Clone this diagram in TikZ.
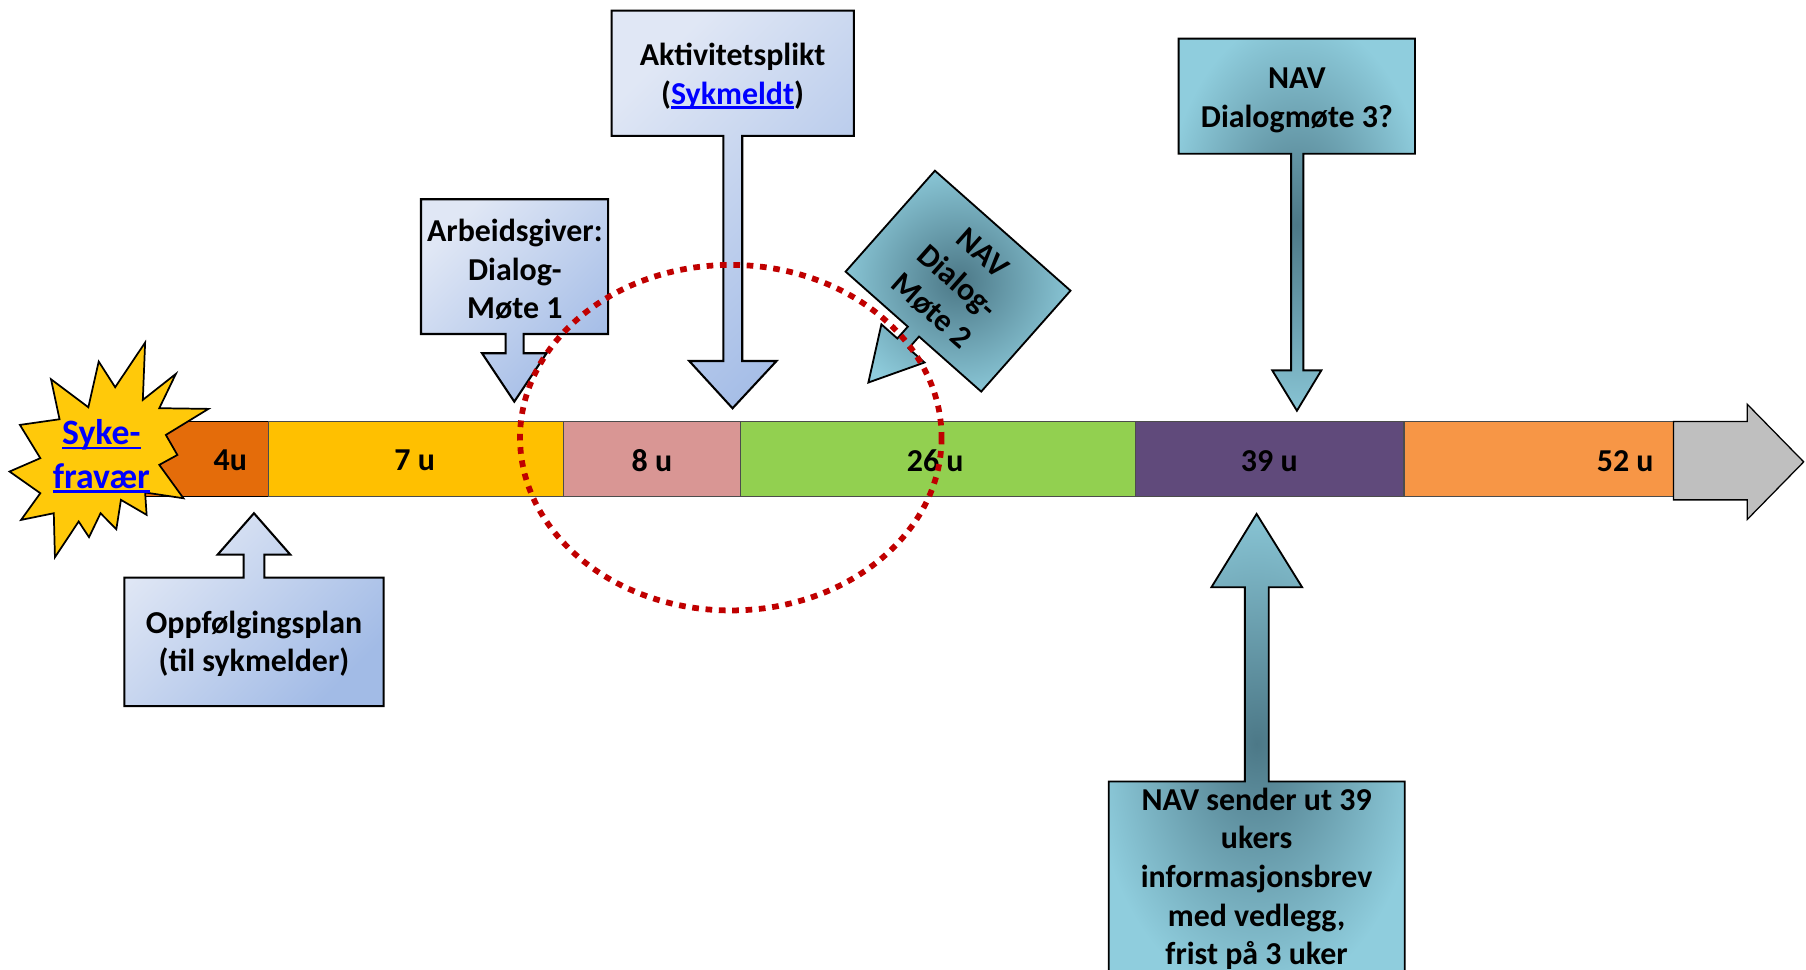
\documentclass[tikz,border=0pt]{standalone}
\usepackage{fontspec}
\setmainfont{Carlito}
\newcommand{\myul}[1]{\setbox0=\hbox{#1}\rlap{\rule[-4pt]{\wd0}{2.2pt}}\box0}
\definecolor{c4u}{HTML}{E46C0A}
\definecolor{c7u}{HTML}{FFC000}
\definecolor{c8u}{HTML}{D99694}
\definecolor{c26u}{HTML}{92D050}
\definecolor{c39u}{HTML}{604A7B}
\definecolor{c52u}{HTML}{F79646}
\definecolor{cgray}{HTML}{BFBFBF}
\definecolor{cstar}{HTML}{FFC90A}
\definecolor{linkblue}{HTML}{0000FF}
\definecolor{circred}{HTML}{C00000}
\definecolor{blueA}{HTML}{E0E7F5}
\definecolor{blueB}{HTML}{A2BBE6}
\definecolor{tealL}{HTML}{8FCDDD}
\definecolor{tealD}{HTML}{4C7887}
\pgfdeclareradialshading{tealrad}{\pgfpoint{0bp}{0bp}}{color(0bp)=(tealD); color(28bp)=(tealL); color(50bp)=(tealL)}
\begin{document}
\begin{tikzpicture}[x=1pt,y=-1pt,
  bar/.style={draw=black!70, line width=1.1pt},
  lbl/.style={font=\fontsize{27.7}{33.5}\selectfont\bfseries, align=center, inner sep=0pt, text=black},
  bluecallout/.style={draw=black, line width=1.8pt, top color=blueA, bottom color=blueB, shading angle=45},
  tealcallout/.style={draw=black, line width=1.6pt, shading=tealrad},
  starsty/.style={draw=black, line width=1.5pt, fill=cstar, line join=miter},
  linktext/.style={font=\fontsize{31}{38}\selectfont\bfseries, align=center, inner sep=0pt, text=linkblue},
  dotcirc/.style={draw=circred, line width=5pt, dash pattern=on 5.8pt off 5.8pt}]
\useasboundingbox (0,0) rectangle (1568,842);
\clip (0,0) rectangle (1568,842);

% time bar
\draw[bar, fill=c4u, draw=black] (115,366) rectangle (233,431);
\draw[bar, fill=c7u] (233,366) rectangle (489,431);
\draw[bar, fill=c8u] (489,366) rectangle (643,431);
\draw[bar, fill=c26u] (643,366) rectangle (986,431);
\draw[bar, fill=c39u] (986,366) rectangle (1219,431);
\draw[bar, fill=c52u] (1219,366) rectangle (1453,431);
\draw[bar, fill=cgray, draw=black] (1453,366) -- (1517,366) -- (1517,351) -- (1566,401)
   -- (1517,451) -- (1517,434) -- (1453,434) -- cycle;
\node[lbl] (l4) at (200,400) {4u};
\node[lbl] (l7) at (360,400) {7 u};
\node[lbl] (l8) at (566,400) {8 u};
\node[lbl] (l26) at (812,400) {26 u};
\node[lbl] (l39) at (1102,400) {39 u};
\node[lbl] (l52) at (1411,400) {52 u};

% explosion
\draw[starsty] (126,297.4) -- (124,347.2) -- (152.7,324.6) -- (138.3,354.4) -- (181,355)
  -- (144,377.6) -- (154,395) -- (138.3,403.6) -- (159.3,432.6) -- (126,427.6)
  -- (127.3,447) -- (105,434) -- (101,459.5) -- (87.3,445.6) -- (77.3,466.4)
  -- (68.3,452.8) -- (47.7,483.8) -- (46.7,445.6) -- (18.3,451.4) -- (35,428.2)
  -- (8.3,409.4) -- (35,397.8) -- (17.3,368.9) -- (51.7,364) -- (44.3,329.3)
  -- (76.7,353.6) -- (85.7,313.9) -- (100,336.2) -- cycle;
\node[linktext] (syk) at (88,396) {\myul{Syke-}\\\myul{fravær}};

% Oppfolgingsplan (up arrow callout)
\draw[bluecallout] (108,501.5) -- (211.5,501.5) -- (211.5,481.5) -- (189,481.5) -- (220.5,445.6)
  -- (252,481.5) -- (229.5,481.5) -- (229.5,501.5) -- (333,501.5) -- (333,613) -- (108,613) -- cycle;
\node[lbl] (opp) at (220.5,559) {Oppfølgingsplan\\(til sykmelder)};

% Arbeidsgiver (down arrow callout)
\draw[bluecallout] (365.5,173) -- (528,173) -- (528,290) -- (454.6,290) -- (454.6,306.7)
  -- (474.5,306.7) -- (446.5,348.7) -- (418.5,306.7) -- (439,306.7) -- (439,290) -- (365.5,290) -- cycle;
\node[lbl] (arb) at (447,234) {Arbeidsgiver:\\Dialog-\\Møte 1};

% Aktivitetsplikt
\draw[bluecallout] (531,9.3) -- (741.3,9.3) -- (741.3,118) -- (644.4,118) -- (644.4,313.4)
  -- (674.2,313.4) -- (636,354.5) -- (598.4,313.4) -- (628,313.4) -- (628,118) -- (531,118) -- cycle;
\node[lbl] (akt) at (636,66) {Aktivitetsplikt\\(\textcolor{linkblue}{\myul{Sykmeldt}})};

% NAV Dialog-Mote 2 (rotated callout)
\begin{scope}[shift={(831.8,244.1)}, rotate=-41.5]
\draw[tealcallout] (-78.6,-58.5) -- (78.6,-58.5) -- (78.6,58.5) -- (6.5,58.5) -- (6.5,72.2)
  -- (25,72.2) -- (0,117.5) -- (-25,72.2) -- (-6.5,72.2) -- (-6.5,58.5) -- (-78.6,58.5) -- cycle;
\node[lbl, rotate=-41.5] (nav2) at (0,1) {NAV\\Dialog-\\Møte 2};
\end{scope}

% NAV Dialogmote 3?
\draw[tealcallout] (1023.3,33.5) -- (1228.5,33.5) -- (1228.5,133.5) -- (1131.6,133.5) -- (1131.6,321.6)
  -- (1147.2,321.6) -- (1126,356.6) -- (1104.6,321.6) -- (1121,321.6) -- (1121,133.5) -- (1023.3,133.5) -- cycle;
\node[lbl] (nav3) at (1126,87) {NAV\\Dialogmøte 3?};

% NAV sender ut
\draw[tealcallout] (962.6,678.5) -- (1080.8,678.5) -- (1080.8,509.8) -- (1051.8,509.8) -- (1091,446.2)
  -- (1130.5,509.8) -- (1101.6,509.8) -- (1101.6,678.5) -- (1219.6,678.5) -- (1219.6,845) -- (962.6,845) -- cycle;
\node[lbl] (navs) at (1091,763) {NAV sender ut 39\\ukers\\informasjonsbrev\\med vedlegg,\\frist på 3 uker};

% dotted focus circle
\draw[dotcirc] (634.5,380) ellipse [x radius=183, y radius=150];
\end{tikzpicture}
\end{document}
